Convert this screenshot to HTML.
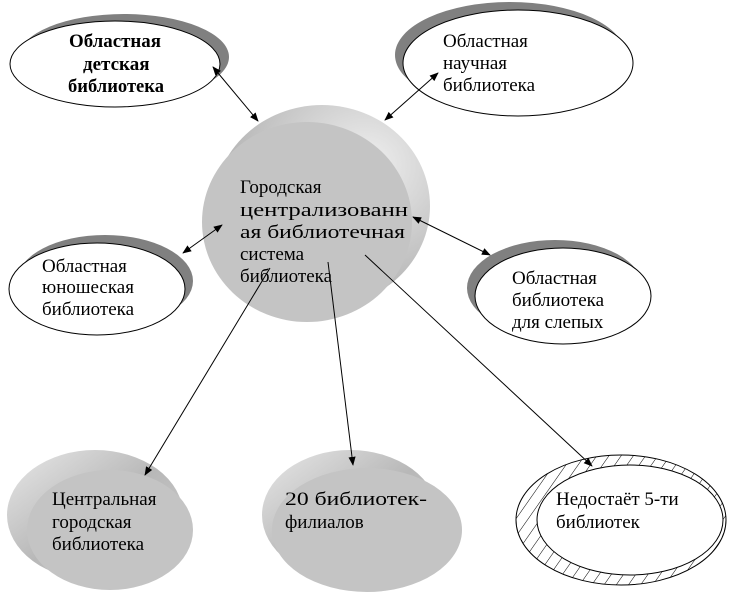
<!DOCTYPE html>
<html><head><meta charset="utf-8"><style>
html,body{margin:0;padding:0;background:#fff;}
svg{display:block;}
text{font-family:"Liberation Serif","Noto Serif CJK SC",serif;font-size:19px;fill:#000;}
</style></head><body>
<svg width="730" height="595" viewBox="0 0 730 595" xmlns="http://www.w3.org/2000/svg">
<defs>
<marker id="a" viewBox="0 0 10 10" refX="9" refY="5" markerWidth="9" markerHeight="9" orient="auto-start-reverse"><path d="M0,1 L10,5 L0,9 z" fill="#000"/></marker>
<radialGradient id="g1" cx="0.7" cy="0.3" r="0.8"><stop offset="0" stop-color="#f0f0f0"/><stop offset="1" stop-color="#a8a8a8"/></radialGradient>
<linearGradient id="g2" x1="0" y1="0" x2="1" y2="1"><stop offset="0" stop-color="#e8e8e8"/><stop offset="0.5" stop-color="#b8b8b8"/><stop offset="1" stop-color="#d0d0d0"/></linearGradient>
<pattern id="h" width="10" height="10" patternUnits="userSpaceOnUse" patternTransform="rotate(35)"><rect width="10" height="10" fill="#fff"/><line x1="0" y1="0" x2="0" y2="10" stroke="#000" stroke-width="1"/></pattern>
</defs>
<ellipse cx="124" cy="57" rx="105" ry="43" fill="#808080"/>
<ellipse cx="115" cy="64" rx="105" ry="43" fill="#fff" stroke="#000"/>
<text x="69" y="47" font-weight="bold" font-size="18" textLength="92" lengthAdjust="spacingAndGlyphs">Областная</text>
<text x="83" y="70" font-weight="bold" font-size="18">детская</text>
<text x="68" y="92" font-weight="bold" font-size="18" textLength="96" lengthAdjust="spacingAndGlyphs">библиотека</text>
<ellipse cx="510" cy="55" rx="115" ry="53" fill="#808080"/>
<ellipse cx="518" cy="63" rx="115" ry="53" fill="#fff" stroke="#000"/>
<text x="443" y="47">Областная</text>
<text x="443" y="69">научная</text>
<text x="443" y="91">библиотека</text>
<ellipse cx="105" cy="281" rx="88" ry="46" fill="#808080"/>
<ellipse cx="97" cy="289" rx="88" ry="46" fill="#fff" stroke="#000"/>
<text x="42" y="272">Областная</text>
<text x="42" y="293">юношеская</text>
<text x="42" y="315">библиотека</text>
<ellipse cx="555" cy="288" rx="88" ry="48" fill="#808080"/>
<ellipse cx="563" cy="296" rx="88" ry="48" fill="#fff" stroke="#000"/>
<text x="512" y="284">Областная</text>
<text x="512" y="306">библиотека</text>
<text x="512" y="328">для слепых</text>
<ellipse cx="322" cy="206" rx="108" ry="101" fill="url(#g1)"/>
<ellipse cx="307" cy="222" rx="105" ry="100" fill="#c4c4c4"/>
<text x="240" y="193">Городская</text>
<text x="240" y="216" textLength="168" lengthAdjust="spacingAndGlyphs">централизованн</text>
<text x="240" y="238" textLength="165" lengthAdjust="spacingAndGlyphs">ая библиотечная</text>
<text x="240" y="260">система</text>
<text x="240" y="282">библиотека</text>
<ellipse cx="95" cy="515" rx="88" ry="65" fill="url(#g2)"/>
<ellipse cx="110" cy="530" rx="83" ry="60" fill="#c4c4c4"/>
<text x="52" y="505">Центральная</text>
<text x="52" y="528">городская</text>
<text x="52" y="550">библиотека</text>
<ellipse cx="350" cy="515" rx="88" ry="65" fill="url(#g2)"/>
<ellipse cx="367" cy="530" rx="95" ry="62" fill="#c4c4c4"/>
<text x="285" y="505" textLength="142" lengthAdjust="spacingAndGlyphs">20 библиотек-</text>
<text x="285" y="528">филиалов</text>
<ellipse cx="621" cy="520" rx="105" ry="65" fill="url(#h)" stroke="#000"/>
<ellipse cx="630" cy="520" rx="93" ry="55" fill="#fff" stroke="#000"/>
<text x="556" y="505">Недостаёт 5-ти</text>
<text x="556" y="528">библиотек</text>
<g stroke="#000" stroke-width="1" fill="none">
<line x1="213" y1="67" x2="258" y2="121" marker-start="url(#a)" marker-end="url(#a)"/>
<line x1="438" y1="73" x2="385" y2="120" marker-start="url(#a)" marker-end="url(#a)"/>
<line x1="222" y1="225" x2="183" y2="253" marker-start="url(#a)" marker-end="url(#a)"/>
<line x1="413" y1="217" x2="490" y2="255" marker-start="url(#a)" marker-end="url(#a)"/>
<line x1="270" y1="268" x2="145" y2="475" marker-end="url(#a)"/>
<line x1="328" y1="262" x2="353" y2="465" marker-end="url(#a)"/>
<line x1="365" y1="255" x2="592" y2="466" marker-end="url(#a)"/>
</g>
</svg>
</body></html>
